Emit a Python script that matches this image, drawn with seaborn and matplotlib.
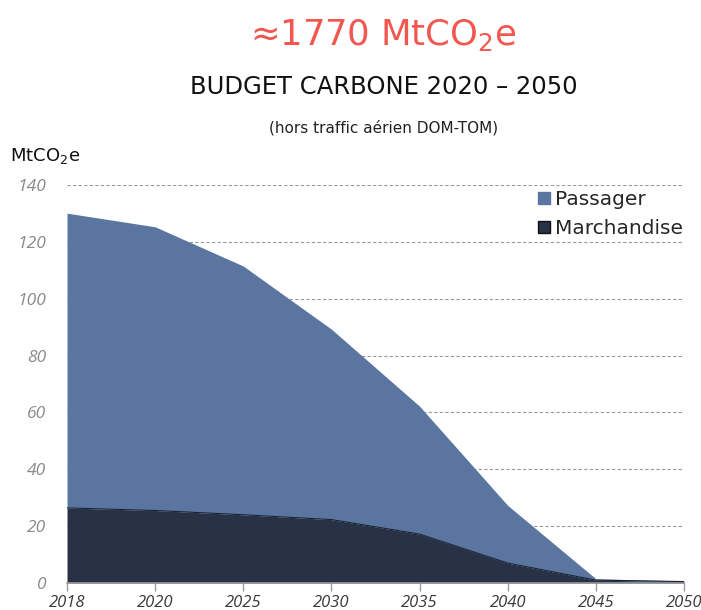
import matplotlib
matplotlib.use("Agg")
import matplotlib.pyplot as plt
import seaborn as sns
import numpy as np
import pandas as pd
from matplotlib.lines import Line2D

# Emissions of domestic transport, MtCO2e
years = ["2018", "2020", "2025", "2030", "2035", "2040", "2045", "2050"]
marchandise = [26.4, 25.5, 24.0, 22.3, 17.2, 7.0, 1.0, 0.5]
passager = [103.7, 99.8, 87.5, 67.0, 45.0, 20.3, 0.5, 0.2]
y_ticks = [0, 20, 40, 60, 80, 100, 120, 140]

col_pass = "#5A76A0"
col_march = "#283246"
col_title = "#F2574F"

sns.set_theme(style="white")
plt.rcParams["font.family"] = ["Open Sans", "DejaVu Sans"]
plt.rcParams["mathtext.fontset"] = "dejavusans"
wide = ["DejaVu Sans"]

df = pd.DataFrame({"year": years, "Marchandise": marchandise, "Passager": passager})
df["x"] = np.arange(len(df))

fig = plt.figure(figsize=(7.01, 6.10), dpi=100)
ax = fig.add_axes([0.0956, 0.0443, 0.8801, 0.6524])

ax.stackplot(df["x"], df["Marchandise"], df["Passager"],
             colors=[col_march, col_pass], linewidth=0, zorder=2)
sns.lineplot(data=df, x="x", y="Marchandise", ax=ax, color="#1c2333",
             linewidth=0.8, zorder=3, legend=False)

ax.set_xlim(0, len(years) - 1)
ax.set_ylim(0, 140)
ax.set_yticks(y_ticks)
ax.set_yticklabels([str(v) for v in y_ticks], fontstyle="italic",
                   color="#8a8a8a", fontsize=12.5)
ax.set_xticks(df["x"])
ax.set_xticklabels(years, fontstyle="italic", color="#3a3a3a", fontsize=12)
ax.set_xlabel("")
ax.set_ylabel("")

for v in y_ticks[1:]:
    ax.axhline(v, color="#9a9a9a", linestyle=(0, (3, 2)), linewidth=0.8, zorder=1)

for s in ["top", "right", "left"]:
    ax.spines[s].set_visible(False)
ax.spines["bottom"].set_color("#9a9a9a")
ax.spines["bottom"].set_linewidth(1.2)
ax.spines["bottom"].set_zorder(4)
ax.tick_params(axis="x", direction="out", length=6, width=1, color="#9a9a9a",
               bottom=True, pad=3)
ax.tick_params(axis="y", length=0, pad=15)

handles = [
    Line2D([], [], marker="s", linestyle="none", markersize=9,
           markerfacecolor=col_pass, markeredgecolor=col_pass),
    Line2D([], [], marker="s", linestyle="none", markersize=9,
           markerfacecolor=col_march, markeredgecolor="#111111"),
]
ax.legend(handles, ["Passager", "Marchandise"], loc="upper right",
          bbox_to_anchor=(1.014, 1.012), frameon=False,
          prop={"family": wide, "size": 14.5},
          handletextpad=0.0, handlelength=1.0, labelspacing=0.5,
          borderaxespad=0.1)

fig.text(0.546, 0.942, "≈1770 MtCO$_2$e", ha="center", va="center",
         color=col_title, fontsize=25.5, family=wide)
fig.text(0.547, 0.857, "BUDGET CARBONE 2020 – 2050", ha="center",
         va="center", color="#111111", fontsize=17.5, family=wide)
fig.text(0.547, 0.790, "(hors traffic aérien DOM-TOM)", ha="center",
         va="center", color="#222222", fontsize=11, family=wide)
fig.text(0.014, 0.745, "MtCO$_2$e", ha="left", va="center",
         color="#111111", fontsize=13, family=wide)

fig.savefig("out.png", dpi=100)
